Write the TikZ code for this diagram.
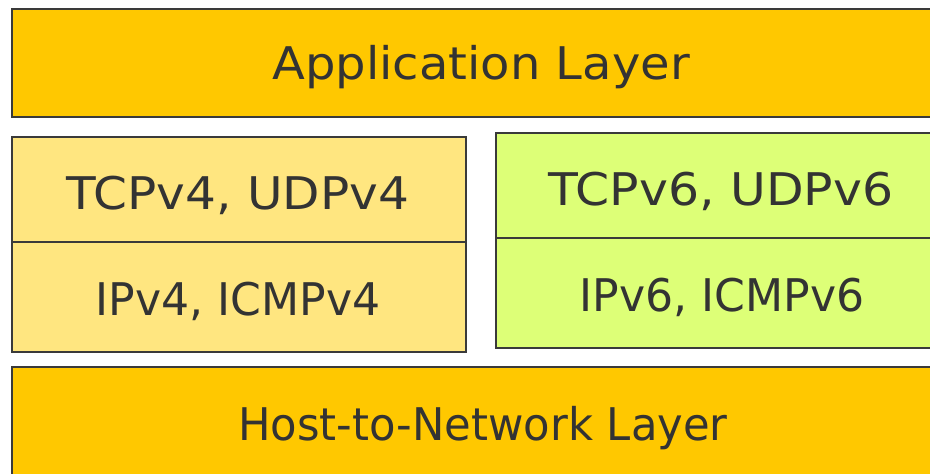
\documentclass[tikz,border=0pt]{standalone}
\usepackage{fontspec}
\setmainfont{DejaVu Sans}
\definecolor{appfill}{HTML}{FFC800}
\definecolor{v4fill}{HTML}{FFE680}
\definecolor{v6fill}{HTML}{DDFF77}
\definecolor{edge}{HTML}{3A3A3A}
\definecolor{txt}{HTML}{333333}
\begin{document}
\begin{tikzpicture}[x=1pt,y=-1pt,
  layerbox/.style={draw=edge,line width=2.4pt,inner sep=0pt,anchor=north west},
  label/.style={text=txt,inner sep=0pt,font=\fontsize{45}{45}\selectfont},
]
\useasboundingbox (0,0) rectangle (930,474);
\clip (0,0) rectangle (930,474);
\fill[white] (0,0) rectangle (930,474);
\node[layerbox,fill=appfill,minimum width=930pt,minimum height=108pt] (app) at (11,8) {};
\node[label] (apptxt) at (481,67) {\scalebox{1.067}[1]{Application Layer}};
\node[layerbox,fill=v4fill,minimum width=454pt,minimum height=105pt] (tcp4) at (11,136) {};
\node[layerbox,fill=v4fill,minimum width=454pt,minimum height=110pt] (ip4) at (11,241) {};
\node[label] (tcp4txt) at (238,195) {\scalebox{1.079}[1]{TCPv4, UDPv4}};
\node[label] (ip4txt) at (238,301) {\scalebox{0.98}[1]{IPv4, ICMPv4}};
\node[layerbox,fill=v6fill,minimum width=450pt,minimum height=105pt] (tcp6) at (495,132) {};
\node[layerbox,fill=v6fill,minimum width=450pt,minimum height=110pt] (ip6) at (495,237) {};
\node[label] (tcp6txt) at (721,191) {\scalebox{1.086}[1]{TCPv6, UDPv6}};
\node[label] (ip6txt) at (722,297) {\scalebox{0.98}[1]{IPv6, ICMPv6}};
\node[layerbox,fill=appfill,minimum width=930pt,minimum height=120pt] (host) at (11,366) {};
\node[label] (hosttxt) at (483,428) {\scalebox{0.962}[1]{Host-to-Network Layer}};
\end{tikzpicture}
\end{document}
